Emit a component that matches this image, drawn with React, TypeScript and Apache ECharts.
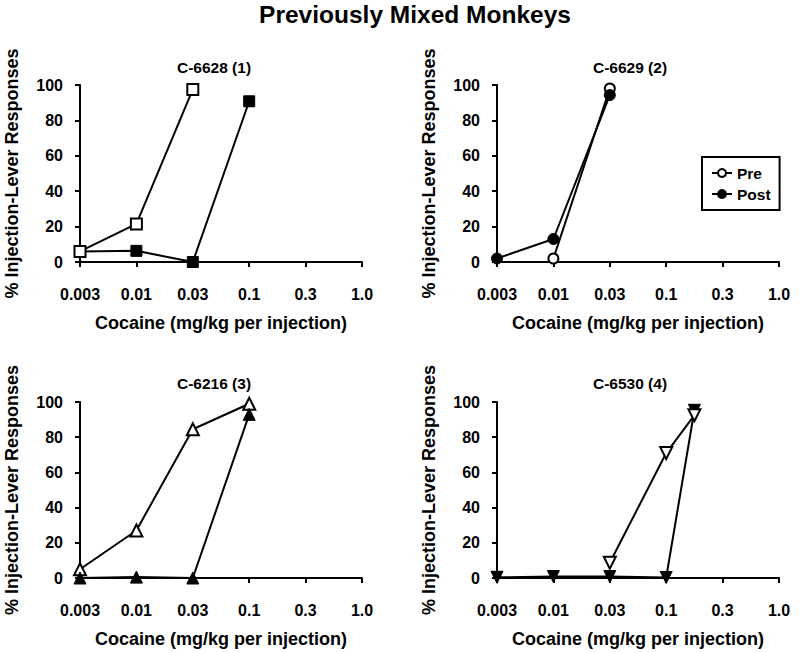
import React, { useEffect, useRef } from "react";
import * as echarts from "echarts";

// Dose tick labels (equally spaced positions 0..5)
const doseLabels = ["0.003", "0.01", "0.03", "0.1", "0.3", "1.0"];
const yTicks = [0, 20, 40, 60, 80, 100];

const panelTitles = ["C-6628 (1)", "C-6629 (2)", "C-6216 (3)", "C-6530 (4)"];

// x = dose position index (0 = 0.003 ... 5 = 1.0)
const p1Pre: [number, number][] = [[0, 6], [1, 21.5], [2, 97.5]];
const p1Post: [number, number][] = [[0, 6], [1, 6.3], [2, 0], [3, 90.8]];
const p2Pre: [number, number][] = [[1, 2], [2, 98]];
const p2Post: [number, number][] = [[0, 2], [1, 13], [2, 94.3]];
const p3Pre: [number, number][] = [[0, 5], [1, 27], [2, 84.5], [3, 99]];
const p3Post: [number, number][] = [[0, 0], [1, 0.5], [2, 0], [3, 93]];
const p4Pre: [number, number][] = [[2, 8.7], [3, 71], [3.5, 92.5]];
const p4Post: [number, number][] = [[0, 0.4], [1, 0.8], [2, 0.8], [3, 0.3], [3.5, 95.3]];

const FONT = "'Liberation Sans', Arial, Helvetica, sans-serif";

export default function App() {
  const ref = useRef<HTMLDivElement>(null);
  useEffect(() => {
    if (!ref.current) return;
    const chart = echarts.init(ref.current, null, { renderer: "svg" });

    const grids = [
      { left: 80, top: 85, width: 282, height: 177 },
      { left: 497, top: 85, width: 282, height: 177 },
      { left: 80, top: 402, width: 282, height: 176 },
      { left: 497, top: 402, width: 282, height: 176 },
    ];

    const axisLine = { show: true, lineStyle: { color: "#000", width: 2 } };
    const axisTick = { show: true, length: 5, lineStyle: { color: "#000", width: 2 } };
    const labelStyle = { color: "#000", fontWeight: "bold" as const, fontSize: 16, fontFamily: FONT };
    const nameStyle = { color: "#000", fontWeight: "bold" as const, fontSize: 18, fontFamily: FONT };

    const xAxis = grids.map((_, i) => ({
      type: "value",
      gridIndex: i,
      min: 0,
      max: 5,
      interval: 1,
      offset: 16,
      axisLine,
      axisTick,
      splitLine: { show: false },
      axisLabel: {
        ...labelStyle,
        margin: 8,
        formatter: (v: number) => doseLabels[Math.round(v)] ?? "",
      },
      name: "Cocaine (mg/kg per injection)",
      nameLocation: "middle",
      nameGap: 36,
      nameTextStyle: nameStyle,
    }));

    const yAxis = grids.map((_, i) => ({
      type: "value",
      gridIndex: i,
      min: yTicks[0],
      max: yTicks[yTicks.length - 1],
      interval: 20,
      offset: 13,
      axisLine,
      axisTick,
      splitLine: { show: false },
      axisLabel: { ...labelStyle, margin: 4 },
      name: "% Injection-Lever Responses",
      nameLocation: "middle",
      nameGap: 46,
      nameTextStyle: nameStyle,
    }));

    const open = { color: "#fff", borderColor: "#000", borderWidth: 2 };
    const filled = { color: "#000", borderColor: "#000", borderWidth: 1 };
    const line = { color: "#000", width: 2 };

    const mk = (
      name: string,
      idx: number,
      data: [number, number][],
      symbol: string,
      size: number,
      isOpen: boolean,
      rotate = 0
    ) => ({
      type: "line",
      name,
      xAxisIndex: idx,
      yAxisIndex: idx,
      data,
      symbol,
      symbolSize: size,
      symbolRotate: rotate,
      showAllSymbol: true,
      lineStyle: line,
      itemStyle: isOpen ? open : filled,
      emphasis: { disabled: true },
    });

    const series = [
      mk("Pre", 1, p2Pre, "circle", 10, true),
      mk("Post", 1, p2Post, "circle", 11, false),
      mk("Post 1", 0, p1Post, "rect", 11, false),
      mk("Pre 1", 0, p1Pre, "rect", 11, true),
      mk("Pre 3", 2, p3Pre, "triangle", 12, true),
      mk("Post 3", 2, p3Post, "triangle", 12, false),
      mk("Post 4", 3, p4Post, "triangle", 12, false, 180),
      mk("Pre 4", 3, p4Pre, "triangle", 12, true, 180),
    ];

    const titlePos = [
      [214, 67],
      [630, 67],
      [214, 383],
      [630, 383],
    ];

    chart.setOption({
      animation: false,
      backgroundColor: "#fff",
      grid: grids,
      xAxis,
      yAxis,
      series,
      legend: {
        data: ["Pre", "Post"],
        orient: "vertical",
        left: 702,
        top: 157,
        borderColor: "#000",
        borderWidth: 2,
        borderRadius: 0,
        padding: [8, 9, 8, 9],
        itemGap: 5,
        itemWidth: 20,
        itemHeight: 10,
        selectedMode: false,
        textStyle: { color: "#000", fontWeight: "bold", fontSize: 15.5, fontFamily: FONT },
      },
      graphic: [
        {
          type: "text",
          x: 415,
          y: 14,
          style: {
            text: "Previously Mixed Monkeys",
            fill: "#000",
            font: `bold 24.5px ${FONT}`,
            textAlign: "center",
            textVerticalAlign: "middle",
          },
        },
        ...panelTitles.map((t, i) => ({
          type: "text",
          x: titlePos[i][0],
          y: titlePos[i][1],
          style: {
            text: t,
            fill: "#000",
            font: `bold 15.5px ${FONT}`,
            textAlign: "center",
            textVerticalAlign: "middle",
          },
        })),
      ],
    });

    return () => chart.dispose();
  }, []);

  return (
    <div
      ref={ref}
      style={{ position: "fixed", left: 0, top: 0, width: 800, height: 653, background: "#fff" }}
    />
  );
}
